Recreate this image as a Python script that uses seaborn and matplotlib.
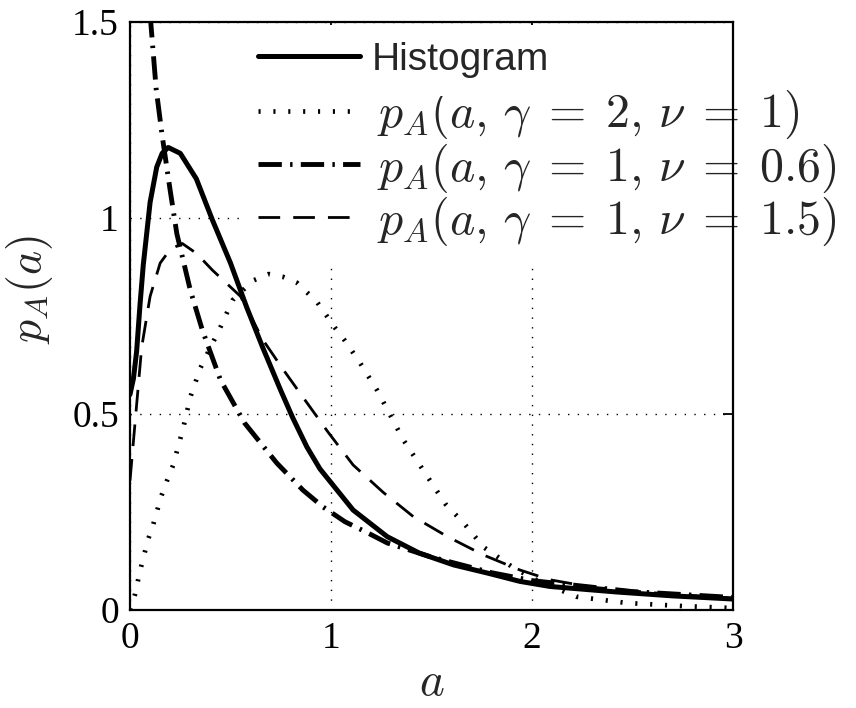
import matplotlib
matplotlib.use("Agg")
import matplotlib.pyplot as plt
import seaborn as sns
import numpy as np

# ---- data ----
hist_a = [0, 0.017, 0.033, 0.05, 0.066, 0.1, 0.133, 0.16, 0.19, 0.25, 0.33, 0.41, 0.5,
          0.58, 0.66, 0.75, 0.81, 0.88, 0.945, 1.11, 1.28, 1.44, 1.61, 1.78, 1.94,
          2.09, 2.42, 2.7, 3.0]
hist_p = [0.55, 0.59, 0.66, 0.78, 0.88, 1.04, 1.13, 1.165, 1.18, 1.165, 1.10, 0.995, 0.885,
          0.773, 0.67, 0.56, 0.49, 0.416, 0.36, 0.255, 0.187, 0.145, 0.115, 0.094, 0.073,
          0.06, 0.046, 0.036, 0.028]

g2n1_a = [0, 0.025, 0.05, 0.09, 0.115, 0.154, 0.184, 0.215, 0.265, 0.3, 0.35, 0.4, 0.44,
          0.51, 0.61, 0.69, 0.76, 0.83, 0.93, 1.02, 1.065, 1.145, 1.23, 1.36, 1.48, 1.57,
          1.66, 1.76, 1.91, 2.02, 2.22, 2.47, 2.75, 3.0]
g2n1_p = [0.0, 0.04, 0.10, 0.18, 0.217, 0.288, 0.33, 0.37, 0.465, 0.543, 0.617, 0.67, 0.71,
          0.79, 0.84, 0.857, 0.85, 0.835, 0.786, 0.72, 0.69, 0.63, 0.56, 0.434, 0.34, 0.27,
          0.222, 0.16, 0.107, 0.077, 0.034, 0.018, 0.01, 0.005]

g1n06_a = [0.1, 0.13, 0.16, 0.2, 0.233, 0.3, 0.36, 0.45, 0.57, 0.73, 0.86, 0.96, 1.07,
           1.17, 1.28, 1.5, 1.8, 2.0, 2.5, 3.0]
g1n06_p = [1.52, 1.33, 1.21, 1.07, 0.96, 0.816, 0.714, 0.587, 0.477, 0.375, 0.306, 0.263,
           0.225, 0.2, 0.171, 0.135, 0.095, 0.075, 0.047, 0.032]

g1n15_a = [0, 0.025, 0.058, 0.1, 0.15, 0.2, 0.26, 0.33, 0.41, 0.55, 0.66, 0.76, 0.87,
           0.985, 1.11, 1.26, 1.41, 1.58, 1.76, 1.94, 2.09, 2.3, 2.6, 3.0]
g1n15_p = [0.33, 0.477, 0.67, 0.8, 0.885, 0.92, 0.935, 0.91, 0.867, 0.80, 0.69, 0.615,
           0.536, 0.454, 0.37, 0.30, 0.238, 0.187, 0.14, 0.102, 0.077, 0.058, 0.044, 0.03]

labels = ["Histogram",
          r"$p_A(a,\,\gamma\;=\;2,\,\nu\;=\;1)$",
          r"$p_A(a,\,\gamma\;=\;1,\,\nu\;=\;0.6)$",
          r"$p_A(a,\,\gamma\;=\;1,\,\nu\;=\;1.5)$"]
xticks = [0, 1, 2, 3]
yticks = [0, 0.5, 1, 1.5]
ytick_labels = ["0", "0.5", "1", "1.5"]

# ---- style ----
sns.set_theme(style="white")
plt.rcParams["mathtext.fontset"] = "cm"
plt.rcParams["font.family"] = ["Liberation Serif", "DejaVu Serif"]

W, H = 856, 708
fig = plt.figure(figsize=(W / 100, H / 100), dpi=100)
ax = fig.add_axes([130/W, 1-610/H, 603/W, 588/H])

sns.lineplot(x=g2n1_a, y=g2n1_p, ax=ax, color="black", lw=3.4,
             linestyle=(0, (0.45, 2.7)), label=labels[1], sort=False)
sns.lineplot(x=g1n15_a, y=g1n15_p, ax=ax, color="black", lw=2.0,
             linestyle=(0, (7.8, 4.7)), label=labels[3], sort=False)
sns.lineplot(x=g1n06_a, y=g1n06_p, ax=ax, color="black", lw=3.5,
             linestyle=(0, (4.8, 1.7, 0.5, 1.7)), label=labels[2], sort=False)
sns.lineplot(x=hist_a, y=hist_p, ax=ax, color="black", lw=3.6, label=labels[0],
             sort=False, solid_joinstyle="round")

ax.set_xlim(0, 3)
ax.set_ylim(0, 1.5)
ax.set_xticks(xticks)
ax.set_xticklabels([str(t) for t in xticks])
ax.set_yticks(yticks)
ax.set_yticklabels(ytick_labels)
ax.tick_params(direction="in", top=True, right=True, length=7, width=1.3,
               labelsize=27, colors="black", pad=8)
for s in ax.spines.values():
    s.set_linewidth(1.6)
    s.set_color("black")
    s.set_zorder(10)

ax.grid(True, linestyle=(0, (1, 6)), color="black", lw=1.0)

ax.set_xlabel(r"$a$", fontsize=34, labelpad=5)
ax.set_ylabel(r"$p_A(a)$", fontsize=33)
ax.yaxis.set_label_coords(-0.125, 0.545)

handles, labs = ax.get_legend_handles_labels()
hmap = dict(zip(labs, handles))

# first legend row (sans-serif text)
fs1 = 28
pad1 = 0.45
leg1 = ax.legend([hmap[labels[0]]], [labels[0]], loc="center left",
                 bbox_to_anchor=((258 - pad1 * fs1 * 100 / 72) / W, 1 - 60 / H),
                 bbox_transform=fig.transFigure, frameon=True,
                 prop={"family": ["Liberation Sans", "DejaVu Sans"], "size": fs1},
                 handlelength=102 / (fs1 * 100 / 72), handletextpad=12 / (fs1 * 100 / 72),
                 borderpad=pad1, borderaxespad=0)
leg1.get_frame().set_facecolor("white")
leg1.get_frame().set_edgecolor("none")
leg1.get_frame().set_alpha(1)
leg1.set_zorder(7)
ax.add_artist(leg1)

# remaining legend rows (math text)
fs2 = 34.5
pad2 = 0.3
leg2 = ax.legend([hmap[l] for l in labels[1:]], labels[1:], loc="center left",
                 bbox_to_anchor=((258 - pad2 * fs2 * 100 / 72) / W, 1 - 168 / H),
                 bbox_transform=fig.transFigure, frameon=True, fontsize=fs2,
                 handlelength=102 / (fs2 * 100 / 72), handletextpad=17 / (fs2 * 100 / 72),
                 labelspacing=0.0, borderpad=pad2, borderaxespad=0)
leg2.get_frame().set_facecolor("white")
leg2.get_frame().set_edgecolor("none")
leg2.get_frame().set_alpha(1)
leg2.set_zorder(6)

fig.savefig("out.png", dpi=100)
